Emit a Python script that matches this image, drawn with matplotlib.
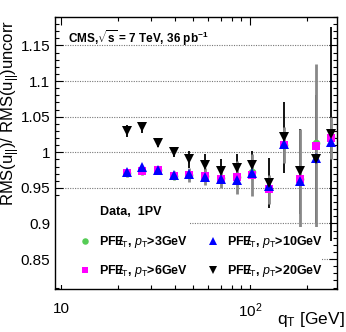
import matplotlib
matplotlib.use("Agg")
import matplotlib.pyplot as plt
from matplotlib.patches import Rectangle
from matplotlib.ticker import LogLocator, FixedLocator, MultipleLocator, NullFormatter

plt.rcParams['font.family'] = ['Liberation Sans', 'DejaVu Sans']
plt.rcParams['mathtext.fontset'] = 'custom'
plt.rcParams['mathtext.rm'] = 'Liberation Sans'
plt.rcParams['mathtext.it'] = 'Liberation Sans:italic'
plt.rcParams['mathtext.bf'] = 'Liberation Sans:bold'

# bin centres in q_T [GeV]
qt = [22.3, 26.9, 32.7, 39.5, 47.7, 58.0, 70.4, 85.0, 103, 125.6, 151, 184, 223, 270]

# RMS ratio for each PF MET particle threshold
ratio_pt3 = [0.971, 0.974, 0.975, 0.967, 0.968, 0.966, 0.964, 0.965, 0.972, 0.948, 1.010, 0.962, 1.013, 1.022]
ratio_pt6 = [0.971, 0.974, 0.975, 0.967, 0.968, 0.966, 0.963, 0.965, 0.968, 0.948, 1.010, 0.962, 1.009, 1.020]
ratio_pt10 = [0.972, 0.980, 0.975, 0.968, 0.969, 0.965, 0.963, 0.961, 0.971, 0.953, 1.011, 0.960, 0.992, 1.015]
ratio_pt20 = [1.030, 1.035, 1.0135, 1.000, 0.990, 0.982, 0.973, 0.978, 0.982, 0.957, 1.021, 0.973, 0.991, 1.026]

err_low = [0.006, 0.006, 0.005, 0.006, 0.01, 0.012, 0.013, 0.023, 0.03, 0.02, 0.025, 0.07, 0.115, 0.03]
err_pt20 = [0.008, 0.008, 0.006, 0.006, 0.012, 0.016, 0.018, 0.02, 0.02, 0.035, 0.05, 0.06, 0.09, 0.15]

met = r"PF$\mathbf{E\!\!\!/}_\mathrm{T}$"
labels = [met + r", $p_\mathrm{T}$>3GeV",
          met + r", $p_\mathrm{T}$>6GeV",
          met + r", $p_\mathrm{T}$>10GeV",
          met + r", $p_\mathrm{T}$>20GeV"]

fig = plt.figure(figsize=(3.46, 3.32), dpi=100)
ax = fig.add_axes([0.159, 0.1295, 0.815, 0.8195])

ax.set_xscale('log')
ax.set_xlim(9.3, 289)
ax.set_ylim(0.808, 1.19)

for y in [0.85, 0.9, 0.95, 1.0, 1.05, 1.1, 1.15]:
    ax.axhline(y, color='#777777', lw=0.8, ls=(0, (1, 1.2)), zorder=1)

# error bars
ax.errorbar(qt, ratio_pt20, yerr=err_pt20, fmt='none', ecolor='black', elinewidth=1.3, capsize=0, zorder=2)
ax.errorbar(qt, ratio_pt6, yerr=err_low, fmt='none', ecolor='#888888', elinewidth=2.0, capsize=0, zorder=3)

h1, = ax.plot(qt, ratio_pt3, 'o', color='#55cc55', ms=5.5, mew=0, zorder=4)
h2, = ax.plot(qt, ratio_pt6, 's', color='#ff00ff', ms=5.5, mew=0, zorder=5)
h3, = ax.plot(qt, ratio_pt10, '^', color='#0000ff', ms=6.5, mew=0, zorder=6)
h4, = ax.plot(qt, ratio_pt20, 'v', color='black', ms=6.5, mew=0, zorder=7)

# white boxes behind legend and header
ax.add_patch(Rectangle((0, 0.015), 0.947, 0.213, transform=ax.transAxes,
                       facecolor='white', edgecolor='none', zorder=8))
ax.add_patch(Rectangle((0, 0.225), 0.48, 0.11, transform=ax.transAxes,
                       facecolor='white', edgecolor='none', zorder=8))

leg = ax.legend([h1, h2, h3, h4], labels, ncol=2, loc='lower left',
                bbox_to_anchor=(0.045, -0.005), frameon=False,
                prop={'weight': 'bold', 'size': 9}, handlelength=1.0,
                handletextpad=0.6, columnspacing=1.5, labelspacing=1.05,
                markerscale=0.85)
leg.set_zorder(9)

ax.text(0.16, 0.283, "Data,  1PV", transform=ax.transAxes, fontsize=9,
        fontweight='bold', va='center', zorder=9)
ax.text(0.046, 0.923, r"CMS,$\sqrt{\mathbf{s}}$ = 7 TeV, 36 pb$^{\mathbf{-1}}$",
        transform=ax.transAxes, fontsize=8.5, fontweight='bold', va='center', zorder=9)

ax.yaxis.set_major_locator(FixedLocator([0.85, 0.9, 0.95, 1.0, 1.05, 1.1, 1.15]))
ax.set_yticklabels(["0.85", "0.9", "0.95", "1", "1.05", "1.1", "1.15"])
ax.yaxis.set_minor_locator(MultipleLocator(0.01))
ax.xaxis.set_major_locator(FixedLocator([10, 100]))
ax.set_xticklabels(["10", r"10$^2$"])
ax.xaxis.set_minor_locator(LogLocator(base=10, subs=range(2, 10)))
ax.xaxis.set_minor_formatter(NullFormatter())

ax.tick_params(which='both', direction='in', top=True, right=True, labelsize=11)
ax.tick_params(which='major', length=6, width=0.8)
ax.tick_params(which='minor', length=3, width=0.8)
ax.tick_params(axis='x', which='major', pad=9)
for s in ax.spines.values():
    s.set_linewidth(1.0)
    s.set_zorder(10)

fig.text(0.997, 0.01, r"q$_\mathrm{T}$ [GeV]", ha='right', va='bottom', fontsize=12.5)
fig.text(0.03, 0.66, r"RMS(u$_{||}$)/ RMS(u$_{||}$)uncorr", rotation=90,
         ha='center', va='center', fontsize=12)

fig.savefig("out.png", dpi=100)
